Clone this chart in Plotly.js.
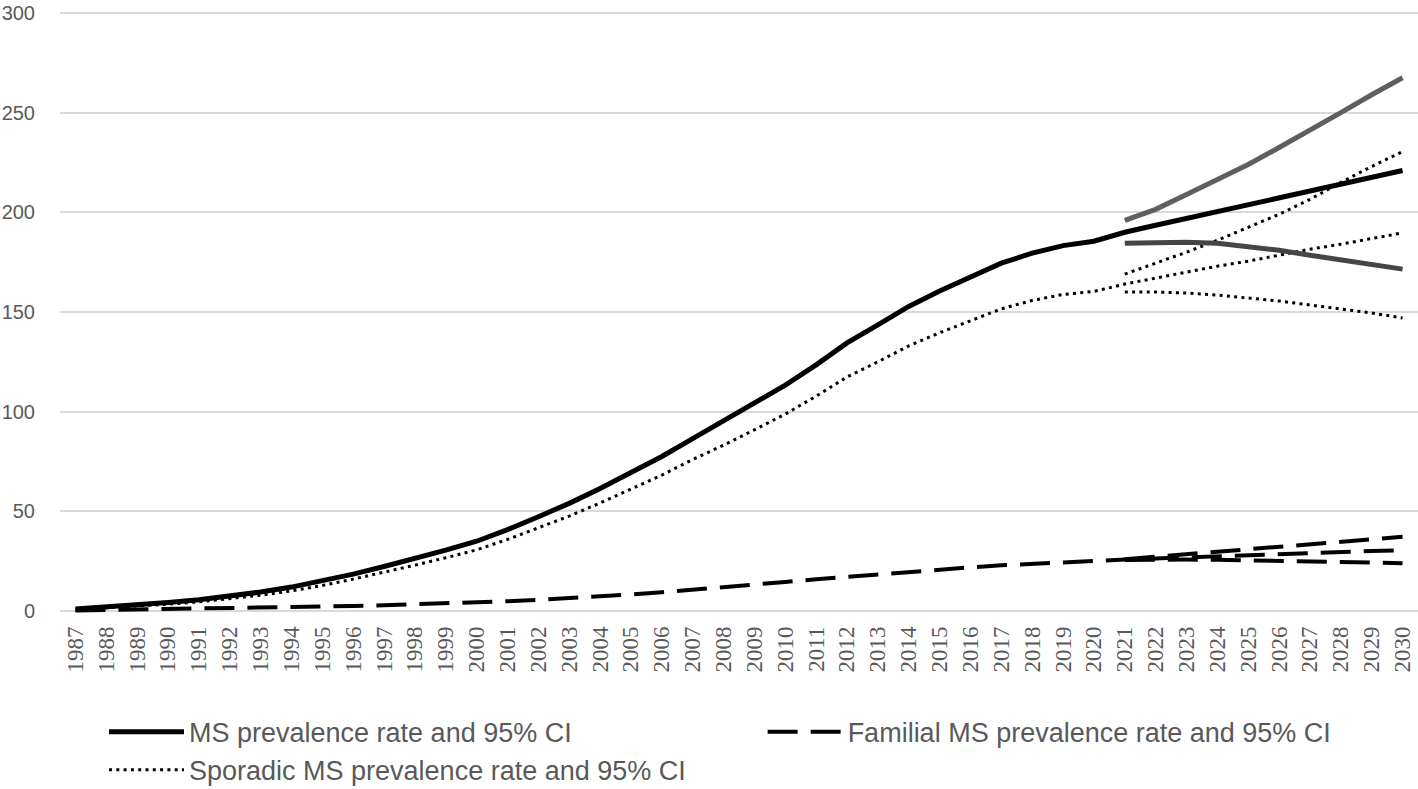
<!DOCTYPE html>
<html>
<head>
<meta charset="utf-8">
<script src="https://cdn.plot.ly/plotly-3.0.1.min.js"></script>
<style>html,body{margin:0;padding:0;background:#fff;}#chart{width:1418px;height:789px;}</style>
</head>
<body>
<div id="chart"></div>
<script>
// Years (category axis)
var years = ["1987","1988","1989","1990","1991","1992","1993","1994","1995","1996",
  "1997","1998","1999","2000","2001","2002","2003","2004","2005","2006",
  "2007","2008","2009","2010","2011","2012","2013","2014","2015","2016",
  "2017","2018","2019","2020","2021","2022","2023","2024","2025","2026",
  "2027","2028","2029","2030"];
var forecastYears = ["2021","2022","2023","2024","2025","2026","2027","2028","2029","2030"];

// MS prevalence rate (per 100,000)
var msRate = [1.0,2.0,3.0,4.3,5.7,7.4,9.5,12.0,15.0,18.5,
  22.3,26.3,30.5,35.0,40.8,47.3,54.0,61.5,69.3,77.5,
  86.5,95.3,104.3,113.3,123.5,134.5,143.5,152.8,160.5,167.5,
  174.5,179.5,183.3,185.5,190.0,193.5,197.0,200.5,203.8,207.2,
  210.6,214.0,217.5,221.0];
var msUpper = [196.0,201.5,209.0,216.5,224.0,232.5,241.0,250.0,259.0,267.5];
var msLower = [184.5,185.0,185.0,184.5,183.0,181.0,178.5,176.0,174.0,171.5];

// Familial MS prevalence rate
var famRate = [0.3,0.5,0.7,0.9,1.1,1.3,1.6,1.9,2.2,2.5,
  2.9,3.3,3.8,4.3,4.9,5.6,6.4,7.3,8.3,9.4,
  10.6,12.0,13.3,14.6,15.9,17.2,18.5,19.8,20.9,21.9,
  22.9,23.7,24.5,25.2,25.8,26.4,27.0,27.6,28.2,28.7,
  29.2,29.7,30.1,30.5];
var famUpper = [26.0,27.2,28.4,29.6,30.8,32.0,33.3,34.6,35.9,37.2];
var famLower = [25.6,25.8,25.8,25.7,25.5,25.2,24.9,24.6,24.3,24.0];

// Sporadic MS prevalence rate
var spoRate = [0.7,1.5,2.3,3.4,4.6,6.1,7.9,10.1,12.8,16.0,
  19.4,23.0,26.7,30.7,35.9,41.7,47.6,54.2,61.0,68.2,
  76.0,83.2,90.9,98.8,107.8,117.4,125.0,133.0,139.6,145.6,
  151.6,155.8,158.8,160.3,164.0,167.0,170.0,173.0,175.5,178.5,
  181.5,184.0,187.0,189.7];
var spoUpper = [169.0,174.5,180.0,186.0,192.5,199.0,206.5,215.0,223.0,230.5];
var spoLower = [160.0,160.0,159.5,158.5,157.0,155.5,153.5,151.5,149.5,147.0];

var legendNames = ["MS prevalence rate and 95% CI",
  "Familial MS prevalence rate and 95% CI",
  "Sporadic MS prevalence rate and 95% CI"];

var dashFam = "30px,13px";
var dotSpo = "3px,4.3px";

var traces = [
  {x: years, y: msRate, name: legendNames[0], mode: "lines",
   line: {color: "#000000", width: 5}},
  {x: years, y: famRate, name: legendNames[1], mode: "lines",
   line: {color: "#000000", width: 4, dash: dashFam}},
  {x: years, y: spoRate, name: legendNames[2], mode: "lines",
   line: {color: "#000000", width: 3, dash: dotSpo}},
  {x: forecastYears, y: famUpper, mode: "lines", showlegend: false,
   line: {color: "#000000", width: 4, dash: dashFam}},
  {x: forecastYears, y: famLower, mode: "lines", showlegend: false,
   line: {color: "#000000", width: 4, dash: dashFam}},
  {x: forecastYears, y: spoUpper, mode: "lines", showlegend: false,
   line: {color: "#000000", width: 3, dash: dotSpo}},
  {x: forecastYears, y: spoLower, mode: "lines", showlegend: false,
   line: {color: "#000000", width: 3, dash: dotSpo}},
  {x: forecastYears, y: msUpper, mode: "lines", showlegend: false,
   line: {color: "#5f5f5f", width: 5}},
  {x: forecastYears, y: msLower, mode: "lines", showlegend: false,
   line: {color: "#454545", width: 5}}
];

var layout = {
  width: 1418, height: 789,
  margin: {l: 60, r: 0, t: 10, b: 176, pad: 0, autoexpand: false},
  paper_bgcolor: "#ffffff", plot_bgcolor: "#ffffff",
  showlegend: true,
  xaxis: {
    type: "category", categoryorder: "array", categoryarray: years,
    range: [-0.5, 43.5], tickangle: -90, showgrid: false, zeroline: false,
    showline: false, ticks: "", ticklabelstandoff: 8,
    tickfont: {family: "Liberation Serif", size: 23, color: "#595959"}
  },
  yaxis: {
    range: [-1, 301.5], dtick: 50, tick0: 0, showgrid: true, gridcolor: "#d9d9d9",
    gridwidth: 2, zeroline: false, showline: false, ticks: "",
    ticklabelstandoff: 24, ticklabeloverflow: "allow",
    tickfont: {family: "Liberation Sans", size: 20, color: "#595959"}
  },
  legend: {
    orientation: "h", x: 0.0324, xanchor: "left", y: -0.157, yanchor: "top",
    itemwidth: 75, entrywidth: 0.485, entrywidthmode: "fraction",
    font: {family: "Liberation Sans", size: 27, color: "#595959"},
    bgcolor: "rgba(0,0,0,0)", traceorder: "normal"
  }
};

Plotly.newPlot("chart", traces, layout, {displayModeBar: false, staticPlot: true});
</script>
</body>
</html>
